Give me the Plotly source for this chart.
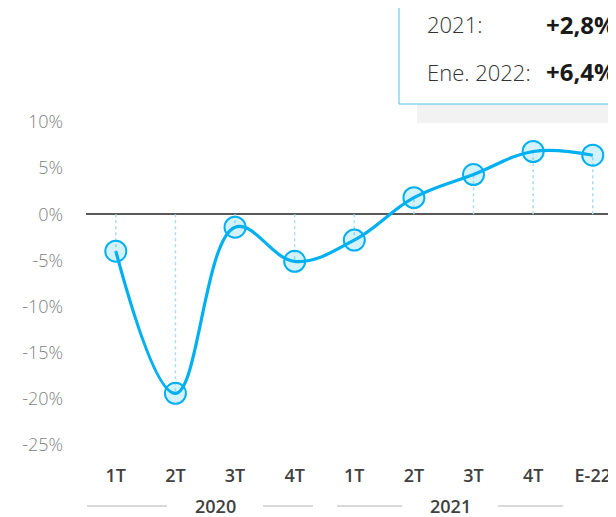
import plotly.graph_objects as go

# ---- data ----
categories = ["1T", "2T", "3T", "4T", "1T", "2T", "3T", "4T", "E-22"]
values = [-4.0, -19.4, -1.4, -5.1, -2.8, 1.8, 4.3, 6.8, 6.4]
y_ticks = [10, 5, 0, -5, -10, -15, -20, -25]
y_tick_labels = ["10%", "5%", "0%", "-5%", "-10%", "-15%", "-20%", "-25%"]
years = ["2020", "2021"]
box_labels = ["2021:", "Ene. 2022:"]
box_values = ["+2,8%", "+6,4%"]

OFF = 8  # page body margin
W, H = 616 - OFF, 517 - OFF
ML, MR, MT, MB = 86 - OFF, 0, 100 - OFF, 67
PW, PH = W - ML - MR, H - MT - MB
FONT = "Open Sans"
BLUE = "#00b0f0"


def px_x(px):
    return (px - OFF - ML) / PW


def px_y(py):
    return (H - MB - (py - OFF)) / PH


x_idx = list(range(len(categories)))

# dotted drop lines from zero to each point
dx, dy = [], []
for i, v in zip(x_idx, values):
    dx += [i, i, None]
    dy += [0, v, None]

fig = go.Figure()
fig.add_trace(go.Scatter(
    x=dx, y=dy, mode="lines",
    line=dict(color="#a6def6", width=1.5, dash="dot"),
    hoverinfo="skip", showlegend=False,
))
fig.add_trace(go.Scatter(
    x=x_idx, y=values, mode="lines+markers",
    line=dict(color=BLUE, width=3.2, shape="spline", smoothing=1.1),
    marker=dict(size=21, color="rgba(0,176,240,0.17)",
                line=dict(color=BLUE, width=2)),
    showlegend=False,
))

# year group labels with side lines (positions in pixels)
year_layout = [
    (215, [(87, 167), (263, 313)]),
    (450, [(337, 402), (498, 563)]),
]
for yr, (cx, segs) in zip(years, year_layout):
    fig.add_annotation(
        text=yr, xref="paper", yref="paper", x=px_x(cx), y=px_y(506),
        showarrow=False, xanchor="center", yanchor="middle",
        font=dict(family=FONT, size=18, color="#404040", weight=600),
    )
    for a, b in segs:
        fig.add_shape(type="line", xref="paper", yref="paper",
                      x0=px_x(a), x1=px_x(b), y0=px_y(506), y1=px_y(506),
                      line=dict(color="#d9d9d9", width=2))

# info box (shadow + bordered box)
fig.add_shape(type="rect", xref="paper", yref="paper",
              x0=px_x(417), x1=px_x(640), y0=px_y(123), y1=px_y(100),
              line=dict(width=0), fillcolor="#f2f2f2", layer="below")
fig.add_shape(type="rect", xref="paper", yref="paper",
              x0=px_x(399), x1=px_x(640), y0=px_y(104), y1=px_y(-20),
              line=dict(color="#4fc1ee", width=1), fillcolor="white")
for lab, val, py in zip(box_labels, box_values, [24, 72]):
    fig.add_annotation(
        text=lab, xref="paper", yref="paper", x=px_x(425), y=px_y(py),
        showarrow=False, xanchor="left", yanchor="middle",
        font=dict(family=FONT, size=22, color="#333333", weight=300),
    )
    fig.add_annotation(
        text=val, xref="paper", yref="paper", x=px_x(544), y=px_y(py),
        showarrow=False, xanchor="left", yanchor="middle",
        font=dict(family=FONT, size=24, color="#1a1a1a", weight="bold"),
    )

fig.update_layout(
    width=W, height=H,
    margin=dict(l=ML, r=MR, t=MT, b=MB, pad=0),
    plot_bgcolor="white", paper_bgcolor="white",
    xaxis=dict(
        range=[-0.5, 8.39], tickvals=x_idx, ticktext=categories,
        showgrid=False, zeroline=False, showline=False, ticks="",
        ticklabelstandoff=13,
        tickfont=dict(family=FONT, size=18, color="#404040", weight=600),
    ),
    yaxis=dict(
        range=[-25.54, 12.38], tickvals=y_ticks, ticktext=y_tick_labels,
        showgrid=False, zeroline=True, zerolinecolor="#595959", zerolinewidth=2,
        showline=False, ticks="", ticklabelstandoff=22,
        tickfont=dict(family=FONT, size=18, color="#7f7f7f", weight=300),
    ),
)

fig.write_html("out.html")
